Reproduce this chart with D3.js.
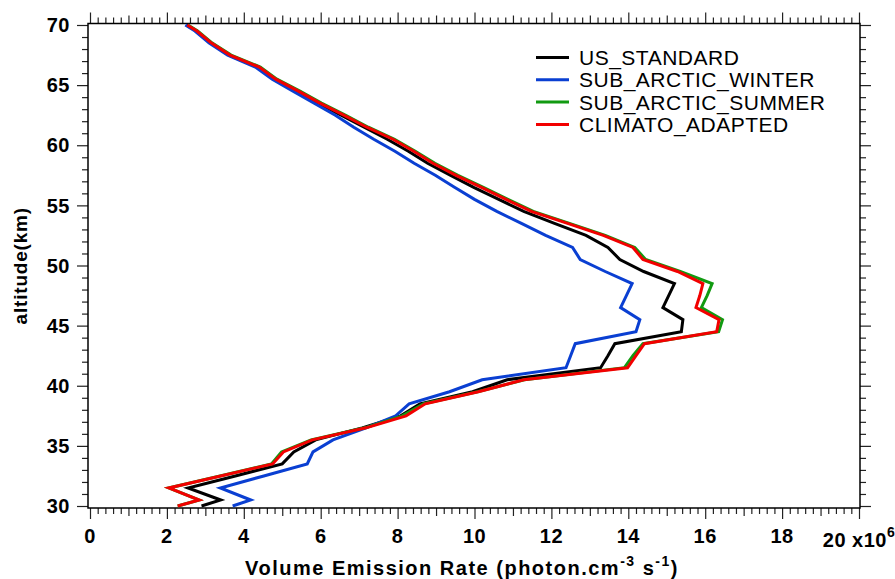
<!DOCTYPE html>
<html>
<head>
<meta charset="utf-8">
<script src="https://cdn.jsdelivr.net/npm/d3@7"></script>
<style>
  body { margin: 0; background: #fff; }
  svg { display: block; font-family: "Liberation Sans", Arial, Helvetica, sans-serif; }
</style>
</head>
<body>
<script>
// altitude grid (km)
const altitudes = [30, 30.5, 31.5, 32.5, 33.5, 34.5, 35.5, 36.5, 37.5, 38.5, 39.5,
    40.5, 41.5, 42.5, 43.5, 44.5, 45.5, 46.5, 47.5, 48.5, 49.5,
    50.5, 51.5, 52.5, 53.5, 54.5, 55.5, 56.5, 57.5, 58.5, 59.5,
    60.5, 61.5, 62.5, 63.5, 64.5, 65.5, 66.5, 67.5, 68.5, 69.5, 70];

// volume emission rate, x10^6 photon.cm-3 s-1
const usStandard = [2.9, 3.4, 2.55, 3.78, 5.0, 5.3, 5.87, 7.08, 8.08, 8.58, 9.95,
    10.85, 13.28, 13.47, 13.65, 15.38, 15.42, 14.9, 15.05, 15.2, 14.4,
    13.78, 13.47, 12.9, 12.08, 11.28, 10.63, 9.98, 9.38, 8.78, 8.28,
    7.73, 7.13, 6.53, 5.93, 5.38, 4.78, 4.36, 3.62, 3.14, 2.77, 2.51];
const subArcticWinter = [3.71, 4.18, 3.39, 4.52, 5.65, 5.8, 6.32, 7.18, 7.95, 8.3, 9.35,
    10.2, 12.38, 12.5, 12.62, 14.2, 14.3, 13.8, 13.95, 14.1, 13.4,
    12.75, 12.55, 11.85, 11.22, 10.58, 10.0, 9.48, 8.98, 8.43, 7.93,
    7.38, 6.86, 6.38, 5.83, 5.28, 4.74, 4.3, 3.58, 3.1, 2.73, 2.48];
const subArcticSummer = [2.28, 2.84, 2.05, 3.38, 4.72, 4.98, 5.75, 7.15, 8.12, 8.68, 10.08,
    11.3, 13.9, 14.12, 14.38, 16.35, 16.45, 15.9, 16.05, 16.18, 15.35,
    14.45, 14.17, 13.4, 12.47, 11.53, 10.87, 10.23, 9.57, 8.97, 8.46,
    7.92, 7.24, 6.64, 6.02, 5.46, 4.86, 4.43, 3.67, 3.18, 2.8, 2.55];
const climatoAdapted = [2.28, 2.84, 2.05, 3.4, 4.75, 5.03, 5.78, 7.18, 8.22, 8.72, 10.1,
    11.28, 13.98, 14.2, 14.42, 16.3, 16.36, 15.76, 15.86, 15.94, 15.28,
    14.38, 14.12, 13.35, 12.42, 11.48, 10.82, 10.18, 9.52, 8.92, 8.42,
    7.88, 7.2, 6.6, 5.98, 5.42, 4.83, 4.4, 3.64, 3.16, 2.78, 2.53];

const seriesNames = ["US_STANDARD", "SUB_ARCTIC_WINTER", "SUB_ARCTIC_SUMMER", "CLIMATO_ADAPTED"];
const seriesValues = [usStandard, subArcticWinter, subArcticSummer, climatoAdapted];
const seriesColors = ["#000000", "#0a3fd2", "#119a11", "#f20000"];

const xTickLabels = ["0", "2", "4", "6", "8", "10", "12", "14", "16", "18"];
const yTickLabels = ["30", "35", "40", "45", "50", "55", "60", "65", "70"];

const svgWidth = 895;
const svgHeight = 579;
const frame = { left: 88, right: 860, top: 23.5, bottom: 508 };

const svg = d3.select("body")
    .append("svg")
    .attr("width", svgWidth)
    .attr("height", svgHeight);

const x = d3.scaleLinear().domain([0, 20]).range([90, 859]);
const y = d3.scaleLinear().domain([30, 70]).range([506, 25]);

const xMajor = d3.range(0, 20.01, 2);
const xMid = d3.range(1, 20, 2);
const xMinor = d3.range(0, 20.01, 0.2).filter(v => Math.abs(v - Math.round(v)) > 0.01);
const yMajor = yTickLabels.map(Number);
const yMinor = d3.range(30, 70.01, 1).filter(v => v % 5 !== 0);

function tickGroup(axis, values, size, tx, ty) {
    const g = svg.append("g")
        .attr("transform", "translate(" + tx + "," + ty + ")")
        .call(axis.tickValues(values).tickSize(size).tickFormat(""));
    g.select(".domain").remove();
    g.selectAll(".tick line").attr("stroke", "#222").attr("stroke-width", 1.2);
    return g;
}

// minor / mid ticks on all four sides
[[d3.axisBottom(x), frame.bottom], [d3.axisTop(x), frame.top]].forEach(([ax, ty]) => {
    tickGroup(ax, xMinor, 6, 0, ty);
    tickGroup(ax.scale(x), xMid, 8, 0, ty);
    tickGroup(ax.scale(x), xMajor, 11, 0, ty);
});
[[d3.axisLeft(y), frame.left], [d3.axisRight(y), frame.right]].forEach(([ax, tx]) => {
    tickGroup(ax, yMinor, 6, tx, 0);
    tickGroup(ax.scale(y), yMajor, 11, tx, 0);
});

// tick labels
svg.append("g")
    .selectAll("text")
    .data(yTickLabels)
    .enter()
    .append("text")
    .attr("x", frame.left - 18)
    .attr("y", d => y(+d))
    .attr("dy", "0.36em")
    .attr("text-anchor", "end")
    .attr("font-size", 20)
    .attr("font-weight", "bold")
    .attr("letter-spacing", 0.5)
    .text(d => d);

svg.append("g")
    .selectAll("text")
    .data(xTickLabels)
    .enter()
    .append("text")
    .attr("x", d => x(+d))
    .attr("y", 543)
    .attr("text-anchor", "middle")
    .attr("font-size", 20)
    .attr("font-weight", "bold")
    .attr("letter-spacing", 0.5)
    .text(d => d);

const lastLabel = svg.append("text")
    .attr("x", x(20))
    .attr("y", 547)
    .attr("text-anchor", "middle")
    .attr("font-size", 20)
    .attr("font-weight", "bold")
    .attr("letter-spacing", 0.5);
lastLabel.append("tspan").text("20 x10");
lastLabel.append("tspan").attr("dy", -10).attr("font-size", 14).text("6");

// frame
svg.append("rect")
    .attr("x", frame.left)
    .attr("y", frame.top)
    .attr("width", frame.right - frame.left)
    .attr("height", frame.bottom - frame.top)
    .attr("fill", "none")
    .attr("stroke", "#000")
    .attr("stroke-width", 1.5);

// curves
const line = d3.line()
    .x(d => x(d[0]))
    .y(d => y(d[1]));

seriesValues.forEach((vals, i) => {
    svg.append("path")
        .datum(vals.map((v, j) => [v, altitudes[j]]))
        .attr("d", line)
        .attr("fill", "none")
        .attr("stroke", seriesColors[i])
        .attr("stroke-width", 3)
        .attr("stroke-linejoin", "miter");
});

// legend
const legend = svg.selectAll(".legend")
    .data(seriesNames)
    .enter()
    .append("g")
    .attr("class", "legend")
    .attr("transform", (d, i) => "translate(536," + (57.5 + i * 22.3) + ")");

legend.append("line")
    .attr("x1", 0)
    .attr("x2", 33)
    .attr("stroke", (d, i) => seriesColors[i])
    .attr("stroke-width", 3);

legend.append("text")
    .attr("x", 43)
    .attr("dy", "0.36em")
    .attr("font-size", 21)
    .attr("letter-spacing", 0.5)
    .text(d => d);

// axis titles
const xTitle = svg.append("text")
    .attr("x", 462)
    .attr("y", 575)
    .attr("text-anchor", "middle")
    .attr("font-size", 20)
    .attr("font-weight", "bold")
    .attr("letter-spacing", 1.5);
xTitle.append("tspan").text("Volume Emission Rate (photon.cm");
xTitle.append("tspan").attr("dy", -9).attr("font-size", 14).text("-3");
xTitle.append("tspan").attr("dy", 9).text(" s");
xTitle.append("tspan").attr("dy", -9).attr("font-size", 14).text("-1");
xTitle.append("tspan").attr("dy", 9).text(")");

svg.append("text")
    .attr("transform", "translate(27," + ((frame.top + frame.bottom) / 2) + ") rotate(-90)")
    .attr("text-anchor", "middle")
    .attr("font-size", 19)
    .attr("font-weight", "bold")
    .attr("letter-spacing", 0.8)
    .text("altitude(km)");
</script>
</body>
</html>
